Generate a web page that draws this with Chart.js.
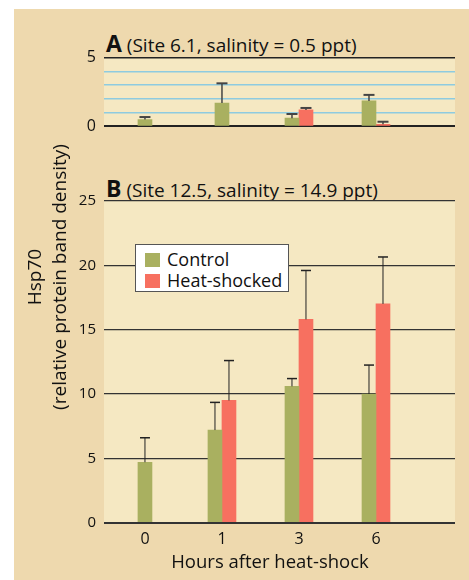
<!DOCTYPE html>
<html><head><meta charset="utf-8">
<script src="https://cdn.jsdelivr.net/npm/chart.js@4"></script>
<style>
html,body{margin:0;padding:0;background:#fff;}
#wrap{position:relative;width:469px;height:580px;overflow:hidden;font-family:'Open Sans',sans-serif;color:#111;}
#bg{position:absolute;left:14px;top:9px;right:0;bottom:0;background:#eed9ae;}
canvas{position:absolute;left:0;}
#cA{top:40px;}
#cB{top:180px;}
.ttl{position:absolute;left:106px;font-size:19px;white-space:nowrap;line-height:24px;}
.ttl b{font-size:23px;}
#ytitle{position:absolute;left:-103px;top:252px;width:300px;height:50px;line-height:25px;font-size:19px;text-align:center;transform:rotate(-90deg);white-space:nowrap;}
#xtitle{position:absolute;left:120px;width:300px;top:549px;text-align:center;font-size:18.5px;line-height:24px;white-space:nowrap;}
#legend{position:absolute;left:135px;top:244px;width:152px;height:46px;background:#fff;border:1.5px solid #555;font-size:18px;}
.li{position:absolute;left:9px;height:21px;line-height:21px;white-space:nowrap;}
.sw{display:inline-block;width:15px;height:14px;vertical-align:middle;margin-right:7px;position:relative;top:-1px;}
</style></head>
<body>
<div id="wrap">
<div id="bg"></div>
<div class="ttl" style="top:31px;"><b>A</b> (Site 6.1, salinity = 0.5 ppt)</div>
<div class="ttl" style="top:176px;"><b>B</b> (Site 12.5, salinity = 14.9 ppt)</div>
<canvas id="cA" width="469" height="104"></canvas>
<canvas id="cB" width="469" height="400"></canvas>
<div id="ytitle">Hsp70<br>(relative protein band density)</div>
<div id="xtitle">Hours after heat-shock</div>
<div id="legend">
 <div class="li" style="top:4px;"><span class="sw" style="background:#a9b060"></span>Control</div>
 <div class="li" style="top:25px;"><span class="sw" style="background:#f77060"></span>Heat-shocked</div>
</div>
</div>
<script>
const categories = ['0', '1', '3', '6'];
const seriesNames = ['Control', 'Heat-shocked'];
const controlA = [0.5, 1.7, 0.6, 1.85];
const heatA = [null, null, 1.2, 0.15];
const controlAErr = [0.18, 1.43, 0.3, 0.44];
const heatAErr = [null, null, 0.14, 0.19];
const controlB = [4.7, 7.2, 10.6, 10.0];
const heatB = [null, 9.5, 15.8, 17.0];
const controlBErr = [1.9, 2.15, 0.6, 2.25];
const heatBErr = [null, 3.1, 3.8, 3.65];
const ticksA = [0, 1, 2, 3, 4, 5];
const ticksB = [0, 5, 10, 15, 20, 25];

const GREEN = '#a9b060', RED = '#f77060';
Chart.defaults.font.family = "'Open Sans', sans-serif";
Chart.defaults.color = '#111';

function ds(label, values, errs, color) {
  return {
    label,
    data: values.map((v, i) => ({ x: i, y: v })),
    errors: errs,
    backgroundColor: color,
    barThickness: 14,
    skipNull: true,
    borderWidth: 0
  };
}

const plotBg = {
  id: 'plotBg',
  beforeDraw(chart) {
    const a = chart.chartArea, c = chart.ctx;
    c.save(); c.fillStyle = '#f5e8c2';
    c.fillRect(a.left, a.top, a.right - a.left, a.bottom - a.top);
    c.restore();
  }
};

function errorBars(color, lw, capW) {
  return {
    id: 'errorBars',
    afterDatasetsDraw(chart) {
      const c = chart.ctx, ys = chart.scales.y;
      chart.data.datasets.forEach((d, di) => {
        const meta = chart.getDatasetMeta(di);
        meta.data.forEach((el, i) => {
          const v = d.data[i].y, e = d.errors[i];
          if (v == null || e == null) return;
          const top = ys.getPixelForValue(v + e);
          c.save();
          c.strokeStyle = color;
          c.lineWidth = lw;
          c.beginPath();
          c.moveTo(el.x, el.y); c.lineTo(el.x, top);
          c.stroke();
          c.lineWidth = lw + 0.5;
          c.beginPath();
          c.moveTo(el.x - capW / 2, top); c.lineTo(el.x + capW / 2, top);
          c.stroke();
          c.restore();
        });
      });
    }
  };
}

function xScale(show) {
  return {
    type: 'linear',
    min: -0.532, max: 4.026,
    offset: false,
    display: show,
    afterBuildTicks: s => { s.ticks = categories.map((_, i) => ({ value: i })); },
    afterFit: s => { s.height = show ? 57.3 : 0; },
    ticks: { callback: v => categories[v], font: { size: 16 }, padding: 7, color: '#111', autoSkip: false, maxRotation: 0 },
    grid: { display: false, drawTicks: false, offset: false },
    border: { display: false }
  };
}

new Chart(document.getElementById('cA'), {
  type: 'bar',
  data: { datasets: [ds(seriesNames[0], controlA, controlAErr, GREEN), ds(seriesNames[1], heatA, heatAErr, RED)] },
  options: {
    responsive: false, animation: false, devicePixelRatio: 1,
    layout: { padding: { left: 0, right: 14, top: 17, bottom: 11 } },
    plugins: { legend: { display: false }, tooltip: { enabled: false } },
    scales: {
      x: xScale(false),
      y: {
        min: 0, max: 5,
        afterBuildTicks: s => { s.ticks = ticksA.map(v => ({ value: v })); },
        afterFit: s => { s.width = 104; },
        ticks: { callback: v => (v === 0 || v === 5) ? String(v) : '', font: { size: 16 }, padding: 8, color: '#111', autoSkip: false },
        grid: {
          drawTicks: false,
          color: c => (c.tick && (c.tick.value === 0 || c.tick.value === 5)) ? '#222' : '#8ecbe0',
          lineWidth: c => (c.tick && c.tick.value === 0) ? 2 : 1.5
        },
        border: { display: false }
      }
    }
  },
  plugins: [plotBg, errorBars('#444', 1.5, 11)]
});

new Chart(document.getElementById('cB'), {
  type: 'bar',
  data: { datasets: [ds(seriesNames[0], controlB, controlBErr, GREEN), ds(seriesNames[1], heatB, heatBErr, RED)] },
  options: {
    responsive: false, animation: false, devicePixelRatio: 1,
    layout: { padding: { left: 0, right: 14, top: 21, bottom: 0 } },
    plugins: { legend: { display: false }, tooltip: { enabled: false } },
    scales: {
      x: xScale(true),
      y: {
        min: 0, max: 25,
        afterBuildTicks: s => { s.ticks = ticksB.map(v => ({ value: v })); },
        afterFit: s => { s.width = 104; },
        ticks: { font: { size: 15 }, padding: 8, color: '#111', autoSkip: false },
        grid: {
          drawTicks: false,
          color: '#333',
          lineWidth: c => (c.tick && c.tick.value === 0) ? 2 : 1.2
        },
        border: { display: false }
      }
    }
  },
  plugins: [plotBg, errorBars('#222', 1, 10)]
});
</script>
</body></html>
